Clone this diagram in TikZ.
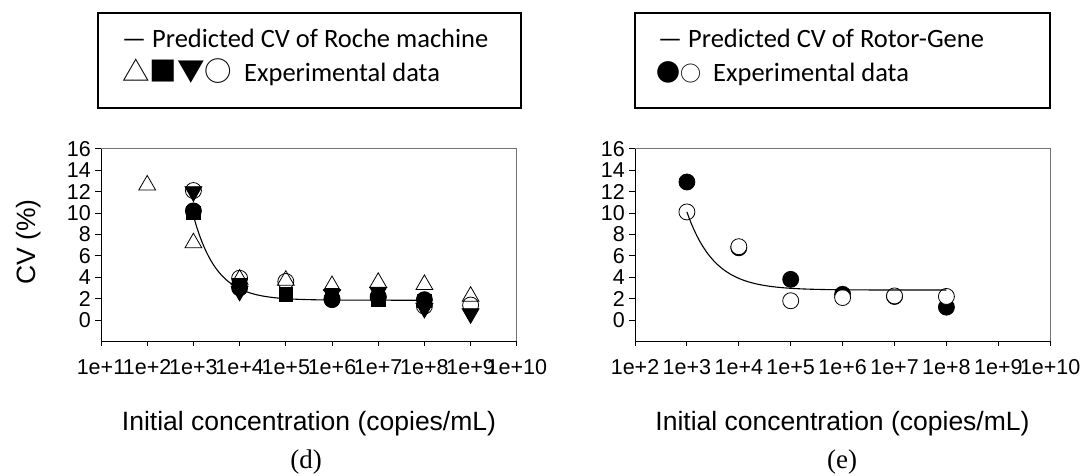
\documentclass[tikz,border=0pt]{standalone}
\usepackage{fontspec}
\setmainfont{Liberation Sans}
\newfontfamily\calib{Carlito}
\newfontfamily\cjk{Noto Sans CJK SC}
\newfontfamily\timesf{Liberation Serif}
\usetikzlibrary{shapes.geometric}
\begin{document}
\begin{tikzpicture}[x=1pt,y=-1pt,
  mk/.style={inner sep=0pt, outer sep=0pt, draw=black, line width=0.8pt},
  otri/.style={mk, regular polygon, regular polygon sides=3, minimum size=19.5pt},
  dtri/.style={mk, fill=black, regular polygon, regular polygon sides=3, shape border rotate=180, minimum size=19.5pt},
  fsq/.style={mk, fill=black, rectangle, minimum size=13.5pt},
  ocirc/.style={mk, fill=white, circle, minimum size=16pt},
  fcirc/.style={mk, fill=black, circle, minimum size=16pt},
  tick/.style={font=\fontsize{21.5}{24}\selectfont, inner sep=0pt},
  axt/.style={font=\fontsize{26.5}{30}\selectfont, inner sep=0pt},
  leg/.style={font=\calib\fontsize{26.5}{30}\selectfont, inner sep=0pt, anchor=base west},
  frame/.style={line width=0.8pt, black!55},
  axis/.style={line width=0.9pt, black},
  curve/.style={line width=1.1pt, black}
]
\useasboundingbox (0,0) rectangle (1083,475);
\fill[white] (0,0) rectangle (1083,475);

% ---------- legends ----------
\draw[line width=1.3pt] (98,13) rectangle (521,108);
\node[leg] (leg1a) at (122,47) {— Predicted CV of Roche machine};
\node[leg] (leg1b) at (122,81) {{\cjk\fontsize{27.5}{30}\selectfont △■▼○}\ \ Experimental data};

\draw[line width=1.3pt] (635,13) rectangle (1050,108);
\node[leg] (leg2a) at (658,47) {— Predicted CV of Rotor-Gene};
\node[leg] (leg2b) at (656,81) {{\cjk\fontsize{24}{30}\selectfont ●}{\cjk\fontsize{21}{30}\selectfont ○}\ \ Experimental data};

% ---------- left plot ----------
\begin{scope}[shift={(54.8,320)}, x=46.2pt, y=10.7pt]
  \draw[frame] (1,16) -- (10,16) -- (10,-2);
  \draw[axis] (1,16) -- (1,-2) -- (10,-2);
  \foreach \v in {0,2,...,16} {
    \draw[axis] (1,\v) -- ++(-6pt,0);
    \node[tick, anchor=east] (ly\v) at ([xshift=-10pt]1,\v) {\v};
  }
  \foreach \d in {1,...,10} {
    \draw[axis] (\d,-2) -- ++(0,-5pt);
    \node[tick, anchor=north] (lx\d) at ([yshift=-18pt]\d,-2) {1e+\d};
  }
  % data
  \foreach \d/\v [count=\i] in {3/12.1,4/3.9,5/3.6,6/2.0,7/2.1,8/1.3,9/1.4}
    \node[ocirc] (loc\i) at (\d,\v) {};
  \foreach \d/\v [count=\i] in {3/10.0,4/3.3,5/2.4,6/2.3,7/1.9,8/1.8}
    \node[fsq] (lsq\i) at (\d,\v) {};
  \foreach \d/\v [count=\i] in {3/10.2,4/3.0,6/1.9,7/2.2,8/1.9}
    \node[fcirc] (lfc\i) at (\d,\v) {};
  \foreach \d/\v [count=\i] in {3/12.0,4/2.7,6/2.4,7/2.6,8/1.1,9/0.6}
    \node[dtri] (ldt\i) at (\d,\v) {};
  \foreach \d/\v [count=\i] in {2/12.6,3/7.2,4/3.8,5/3.7,6/3.2,7/3.5,8/3.3,9/2.2}
    \node[otri] (lot\i) at (\d,\v) {};
  \draw[curve, domain=3:8, samples=80, smooth] plot (\x, {1.85+7.9*exp(-2.0*(\x-3))});
\end{scope}

% ---------- right plot ----------
\begin{scope}[shift={(531.2,320)}, x=51.9pt, y=10.7pt]
  \draw[frame] (2,16) -- (10,16) -- (10,-2);
  \draw[axis] (2,16) -- (2,-2) -- (10,-2);
  \foreach \v in {0,2,...,16} {
    \draw[axis] (2,\v) -- ++(-6pt,0);
    \node[tick, anchor=east] (ry\v) at ([xshift=-10pt]2,\v) {\v};
  }
  \foreach \d in {2,...,10} {
    \draw[axis] (\d,-2) -- ++(0,-5pt);
    \node[tick, anchor=north] (rx\d) at ([yshift=-18pt]\d,-2) {1e+\d};
  }
  \foreach \d/\v [count=\i] in {3/12.9,4/6.75,5/3.8,6/2.4,7/2.2,8/1.2}
    \node[fcirc] (rfc\i) at (\d,\v) {};
  \foreach \d/\v [count=\i] in {3/10.1,4/6.85,5/1.8,6/2.1,7/2.25,8/2.2}
    \node[ocirc] (roc\i) at (\d,\v) {};
  \draw[curve, domain=3:8, samples=80, smooth] plot (\x, {2.8+7.3*exp(-1.9*(\x-3))});
\end{scope}

% ---------- axis titles & captions ----------
\node[axt, rotate=90, anchor=base] (ytitle) at (35,242) {CV (\%)};
\node[axt, anchor=base] (xtitle1) at (309,430) {Initial concentration (copies/mL)};
\node[axt, anchor=base] (xtitle2) at (842.5,430) {Initial concentration (copies/mL)};
\node[font=\timesf\fontsize{27}{30}\selectfont, inner sep=0pt] (capd) at (306,462) {(d)};
\node[font=\timesf\fontsize{27}{30}\selectfont, inner sep=0pt] (cape) at (842,462) {(e)};
\end{tikzpicture}
\end{document}
